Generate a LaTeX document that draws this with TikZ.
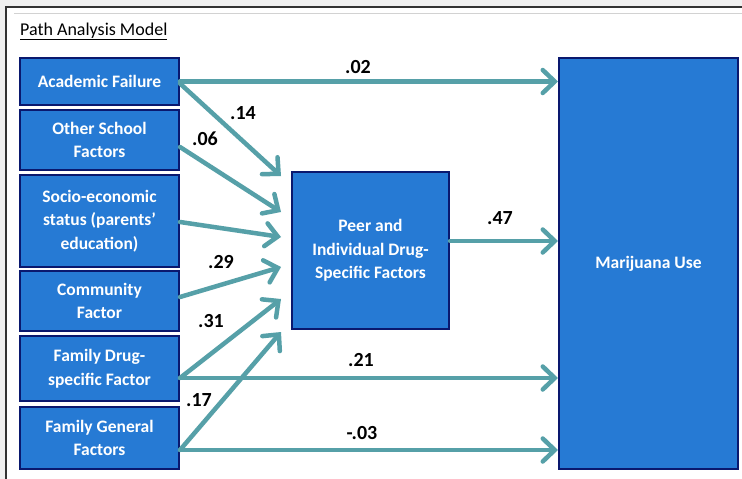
\documentclass[tikz,border=0pt]{standalone}
\usepackage{fontspec}
\setmainfont{Carlito}
\usetikzlibrary{arrows.meta,calc}
\definecolor{boxblue}{RGB}{38,122,212}
\definecolor{boxline}{RGB}{10,24,110}
\definecolor{pathteal}{RGB}{86,160,168}
\tikzset{
  factor/.style={draw=boxline, line width=2pt, fill=boxblue, text=white,
    font=\bfseries\fontsize{17.5}{23.5}\selectfont, align=center, inner sep=0pt},
  path/.style={draw=pathteal, line width=4.5pt, line cap=round,
    -{Straight Barb[length=12pt,width=23pt,line cap=round]}},
  coef/.style={font=\bfseries\fontsize{20}{22}\selectfont, inner sep=0pt}
}
\begin{document}
\begin{tikzpicture}[x=1pt, y=-1pt]
\useasboundingbox (0,0) rectangle (742,479);
% window frame
\fill[gray!12] (0,0) rectangle (742,479);
\fill[white] (6,7) rectangle (742,479);
\draw[line width=1.5pt, black!80] (6,479) -- (6,7) -- (742,7);
\draw[line width=1pt, gray!35] (14,13) -- (742,13);
\node[anchor=base west, inner sep=0pt, font=\fontsize{18}{20}\selectfont] (title) at (20,35) {\underline{Path Analysis Model}};
% left column
\node[factor, minimum width=159, minimum height=47] (af) at (99.5,81.5) {Academic Failure};
\node[factor, minimum width=159, minimum height=60] (os) at (99.5,140) {Other School\\Factors};
\node[factor, minimum width=159, minimum height=92] (se) at (99.5,221) {Socio-economic\\status (parents'\\education)};
\node[factor, minimum width=159, minimum height=60] (cf) at (99.5,301) {Community\\Factor};
\node[factor, minimum width=159, minimum height=65] (fd) at (99.5,368.5) {Family Drug-\\specific Factor};
\node[factor, minimum width=159, minimum height=62] (fg) at (99.5,438) {Family General\\Factors};
% mediator and outcome
\node[factor, minimum width=157, minimum height=157] (peer) at (370.5,250.5) {Peer and\\Individual Drug-\\Specific Factors};
\node[factor, minimum width=179, minimum height=411] (mu) at (648.5,263.5) {Marijuana Use};
% arrow tips in front of the mediator
\coordinate (t1) at ([xshift=-10pt, yshift=-5pt]peer.north west);
\coordinate (t2) at ([xshift=-10pt, yshift=-41pt]peer.north west);
\coordinate (t3) at ([xshift=-10pt, yshift=-66pt]peer.north west);
\coordinate (t4) at ([xshift=-10pt, yshift=-96pt]peer.north west);
\coordinate (t5) at ([xshift=-10pt, yshift=-128pt]peer.north west);
\coordinate (t6) at ([xshift=-10pt, yshift=-161pt]peer.north west);
% paths
\draw[path] (af.east) -- (af.east -| mu.west);
\draw[path] ([yshift=-2pt]af.east) -- (t1);
\draw[path] ([yshift=-7pt]os.east) -- (t2);
\draw[path] ([yshift=-1pt]se.east) -- (t3);
\draw[path] ([yshift=4pt]cf.east) -- (t4);
\draw[path] ([yshift=-9.5pt]fd.east) -- (t5);
\draw[path] ([yshift=-12pt]fg.east) -- (t6);
\draw[path] ([yshift=-9.5pt]fd.east) -- ([yshift=-9.5pt]fd.east -| mu.west);
\draw[path] ([yshift=-12pt]fg.east) -- ([yshift=-12pt]fg.east -| mu.west);
\draw[path] ([yshift=9.5pt]peer.east) -- ([yshift=9.5pt]peer.east -| mu.west);
% coefficients
\node[coef] (c1) at (358,67) {.02};
\node[coef] (c2) at (243,113) {.14};
\node[coef] (c3) at (205,139) {.06};
\node[coef] (c4) at (221,262) {.29};
\node[coef] (c5) at (211,321) {.31};
\node[coef] (c6) at (199,400) {.17};
\node[coef] (c7) at (361,360) {.21};
\node[coef] (c8) at (362,433) {-.03};
\node[coef] (c9) at (500,218) {.47};
\end{tikzpicture}
\end{document}
